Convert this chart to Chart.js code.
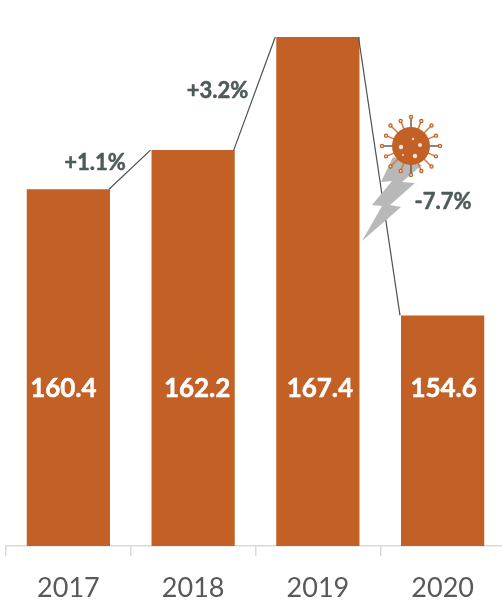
<!DOCTYPE html>
<html>
<head>
<meta charset="utf-8">
<title>2017-2020</title>
<script src="https://cdn.jsdelivr.net/npm/chart.js@4"></script>
<style>
  html, body { margin: 0; padding: 0; background: #fff; overflow: hidden; }
  canvas { display: block; }
</style>
</head>
<body>
<canvas id="barChart" width="506" height="600"></canvas>
<script>
const years = ['2017', '2018', '2019', '2020'];
const values = [160.4, 162.2, 167.4, 154.6];
const changes = ['+1.1%', '+3.2%', '-7.7%'];

const ORANGE = '#c26026';
const SLATE = '#4d5a5a';

// Valeurs au centre des barres + lignes de variation entre les barres
const annotations = {
  id: 'annotations',
  afterDatasetsDraw(chart) {
    const ctx = chart.ctx;
    const bars = chart.getDatasetMeta(0).data;
    const labelShift = [-5, 4, 2, 1];

    ctx.save();
    ctx.strokeStyle = '#4a5252';
    ctx.lineWidth = 1.2;
    for (let i = 0; i < bars.length - 1; i++) {
      ctx.beginPath();
      ctx.moveTo(bars[i].x + bars[i].width / 2 - 1, bars[i].y);
      ctx.lineTo(bars[i + 1].x - bars[i + 1].width / 2 - 1, bars[i + 1].y);
      ctx.stroke();
    }

    ctx.textAlign = 'center';
    ctx.textBaseline = 'middle';
    ctx.lineJoin = 'round';
    ctx.fillStyle = '#fff';
    ctx.strokeStyle = '#fff';
    ctx.lineWidth = 0.5;
    ctx.font = 'bold 26px Lato';
    bars.forEach((bar, i) => {
      ctx.fillText(values[i].toFixed(1), bar.x + labelShift[i], 389);
      ctx.strokeText(values[i].toFixed(1), bar.x + labelShift[i], 389);
    });

    drawVirus(ctx);

    ctx.fillStyle = SLATE;
    ctx.strokeStyle = SLATE;
    ctx.lineWidth = 0.5;
    ctx.font = 'bold 22px Lato';
    [[95, 163], [217.5, 91], [443, 202]].forEach((p, i) => {
      ctx.fillText(changes[i], p[0], p[1]);
      ctx.strokeText(changes[i], p[0], p[1]);
    });
    ctx.restore();
  }
};

// Eclair gris et virus au-dessus de la baisse de 2020
function drawVirus(ctx) {
  const cx = 411, cy = 146;
  const bolt = [[393, 157], [381, 182], [392, 181], [372, 205], [382, 206], [362, 241],
    [401, 207], [390, 205], [415, 183], [402, 182], [422, 165]];
  ctx.fillStyle = '#b8b8b8';
  ctx.beginPath();
  bolt.forEach((p, i) => (i ? ctx.lineTo(p[0], p[1]) : ctx.moveTo(p[0], p[1])));
  ctx.closePath();
  ctx.fill();

  const spikes = 16;
  for (let i = 0; i < spikes; i++) {
    const a = (i / spikes) * Math.PI * 2;
    const r = i % 2 ? 27 : 29;
    ctx.strokeStyle = i % 4 === 0 ? '#6b5a50' : '#d07a40';
    ctx.lineWidth = 1.5;
    ctx.beginPath();
    ctx.moveTo(cx + Math.cos(a) * 18, cy + Math.sin(a) * 18);
    ctx.lineTo(cx + Math.cos(a) * r, cy + Math.sin(a) * r);
    ctx.stroke();
    ctx.fillStyle = '#f5dccb';
    ctx.strokeStyle = ORANGE;
    ctx.lineWidth = 1.2;
    ctx.beginPath();
    ctx.arc(cx + Math.cos(a) * r, cy + Math.sin(a) * r, 1.6, 0, Math.PI * 2);
    ctx.fill();
    ctx.stroke();
  }

  ctx.fillStyle = ORANGE;
  ctx.beginPath();
  ctx.arc(cx, cy, 19, 0, Math.PI * 2);
  ctx.fill();

  ctx.fillStyle = '#f3e4da';
  [[-10, 1, 2.2], [9, -1, 2], [4, 10, 2.2], [-8, 9, 1], [2, -7, 1.2]].forEach((s) => {
    ctx.beginPath();
    ctx.arc(cx + s[0], cy + s[1], s[2], 0, Math.PI * 2);
    ctx.fill();
  });
}

new Chart(document.getElementById('barChart'), {
  type: 'bar',
  data: {
    labels: years,
    datasets: [{
      data: values,
      backgroundColor: ORANGE,
      borderWidth: 0,
      barPercentage: 1,
      categoryPercentage: 0.667,
    }]
  },
  plugins: [annotations],
  options: {
    responsive: false,
    animation: false,
    layout: { padding: { left: 6, right: 1, top: 37, bottom: 0 } },
    plugins: { legend: { display: false }, tooltip: { enabled: false } },
    scales: {
      y: { display: false, min: 144, max: 167.4 },
      x: {
        afterFit(scale) { scale.height = 54; },
        border: { color: '#d9d9d9', width: 1.5 },
        grid: { color: '#d9d9d9', lineWidth: 1.5, drawOnChartArea: false, tickLength: 10 },
        ticks: { color: '#595959', font: { family: 'Lato', size: 27 }, padding: 16, maxRotation: 0 },
      }
    }
  }
});
</script>
</body>
</html>
